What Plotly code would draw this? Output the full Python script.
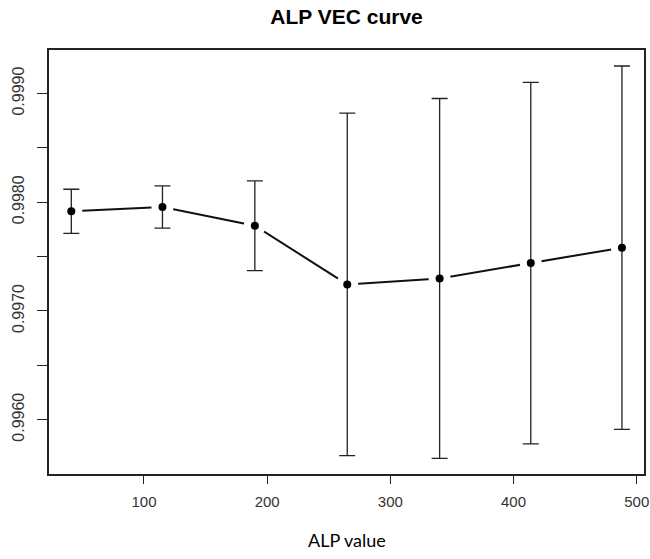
import plotly.graph_objects as go

alp_value = [41, 115, 190, 265, 340, 414, 488]
vec_mean = [0.997916, 0.997956, 0.997784, 0.997244, 0.997299, 0.997440, 0.997582]
vec_err = [0.000203, 0.000195, 0.000413, 0.001575, 0.001655, 0.001662, 0.001671]

y_tickvals = [0.9960, 0.9965, 0.9970, 0.9975, 0.9980, 0.9985, 0.9990]
y_ticktext = ["0.9960", "", "0.9970", "", "0.9980", "", "0.9990"]
x_tickvals = [100, 200, 300, 400, 500]

W, H = 650, 559
L, R, T, B = 49, 6, 50, 85

fig = go.Figure()
# connecting line
fig.add_trace(go.Scatter(x=alp_value, y=vec_mean, mode="lines",
                         line=dict(color="#111", width=2), hoverinfo="skip"))
# white halo to create gaps (R type="b")
fig.add_trace(go.Scatter(x=alp_value, y=vec_mean, mode="markers",
                         marker=dict(color="white", size=22, opacity=1,
                                     line=dict(width=0)),
                         hoverinfo="skip"))
# points with error bars
fig.add_trace(go.Scatter(x=alp_value, y=vec_mean, mode="markers",
                         marker=dict(color="black", size=8),
                         error_y=dict(type="data", array=vec_err, symmetric=True,
                                      color="#222", thickness=1.3, width=8)))

fig.update_layout(
    width=W, height=H,
    margin=dict(l=L, r=R, t=T, b=B, autoexpand=False),
    paper_bgcolor="white", plot_bgcolor="white",
    showlegend=False,
    title=dict(text="<b>ALP VEC curve</b>", x=0.5, xref="paper",
               y=1 - 17 / H, yref="container", yanchor="middle",
               font=dict(family="Liberation Sans, Arial", size=21, color="black")),
    annotations=[dict(text="ALP value", xref="paper", yref="paper",
                      x=0.5, y=-(540 - 474) / (H - T - B), yanchor="middle",
                      showarrow=False,
                      font=dict(family="Lato, Open Sans", size=18, color="black"))],
)
fig.update_xaxes(range=[22.9, 505.9], tickvals=x_tickvals, ticks="outside",
                 ticklen=8, tickcolor="#222", tickwidth=1.2, automargin=False,
                 showline=True, mirror=True, linecolor="#222", linewidth=1.5,
                 showgrid=False, zeroline=False, ticklabelstandoff=5,
                 tickfont=dict(family="Liberation Sans, Arial", size=15, color="#333"))
fig.update_yaxes(range=[0.99550, 0.99940], tickvals=y_tickvals, ticktext=y_ticktext,
                 ticks="outside", ticklen=10, tickcolor="#222", tickwidth=1.2,
                 tickangle=-90, showline=True, mirror=True, linecolor="#222",
                 automargin=False,
                 linewidth=1.5, showgrid=False, zeroline=False, ticklabelstandoff=7,
                 tickfont=dict(family="Liberation Sans, Arial", size=16, color="#333"))

fig.write_html(
    "out.html",
    config={"displayModeBar": False},
    post_script="document.body.style.margin='0';document.body.style.overflow='hidden';",
)
